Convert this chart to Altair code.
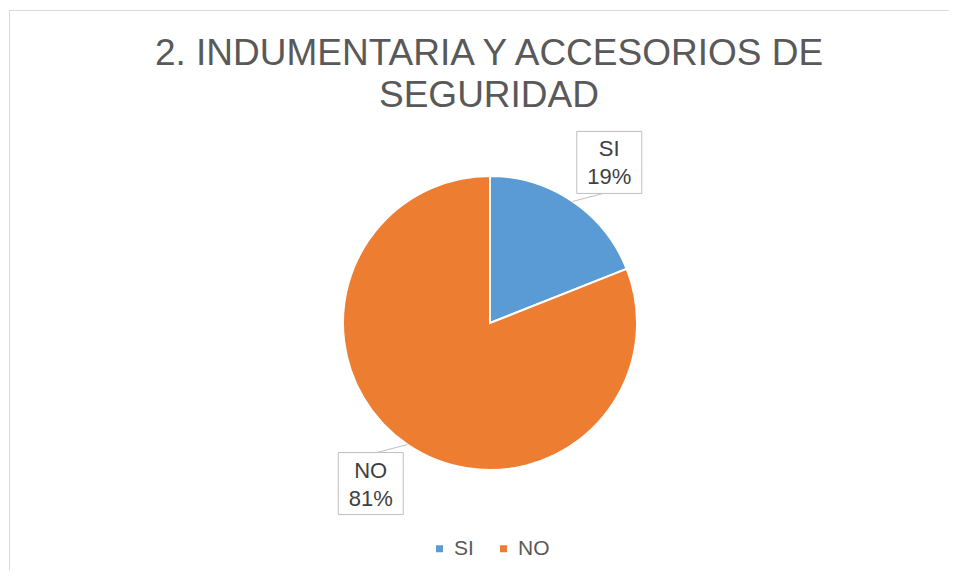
import altair as alt
import pandas as pd

categories = ["SI", "NO"]
values = [19, 81]
order = [0, 1]
title_lines = ["2. INDUMENTARIA Y ACCESORIOS DE", "SEGURIDAD"]

colors = ["#5B9BD5", "#ED7D31"]
FONT = "Liberation Sans"
CX, CY, R, LR = 482, 315, 147, 200
OFF = 0.042  # label rotation offset (radians)
W, H = 941, 562

df = pd.DataFrame({"cat": categories, "value": values, "order": order})

base = alt.Chart(df).transform_window(
    cum="sum(value)", sort=[alt.SortField("order")]
).transform_joinaggregate(total="sum(value)").transform_calculate(
    mid="2*PI*(datum.cum - datum.value/2)/datum.total",
    pct="datum.value + '%'",
).transform_calculate(
    la=f"datum.mid + {OFF}",
).transform_calculate(
    lx=f"{CX} + {LR}*sin(datum.la)",
    ly=f"{CY} - {LR}*cos(datum.la)",
    px=f"{CX} + {R}*sin(datum.mid)",
    py=f"{CY} - {R}*cos(datum.mid)",
).transform_calculate(
    bx1="datum.lx - 32.5",
    bx2="datum.lx + 32.5",
    by1="datum.ly - 31",
    by2="datum.ly + 31",
    ex="datum.lx - 10*sin(datum.la)",
    ey="datum.ly + 31*(cos(datum.la) > 0 ? 1 : -1)",
)

color = alt.Color(
    "cat:N",
    scale=alt.Scale(domain=categories, range=colors),
    sort=categories,
    legend=alt.Legend(
        title=None,
        orient="none",
        legendX=421,
        legendY=530,
        padding=0,
        direction="horizontal",
        symbolType="square",
        symbolSize=49,
        symbolStrokeWidth=0,
        labelFontSize=21,
        labelFont=FONT,
        labelColor="#595959",
        labelOffset=4,
        columnPadding=19,
    ),
)

pie = alt.Chart(df).mark_arc(
    outerRadius=R, stroke="white", strokeWidth=2
).encode(
    theta=alt.Theta("value:Q", stack=True),
    order=alt.Order("order:Q"),
    color=color,
    x=alt.value(CX),
    y=alt.value(CY),
)

leader = base.mark_rule(color="#bfbfbf", strokeWidth=1).encode(
    x=alt.X("px:Q", scale=None),
    y=alt.Y("py:Q", scale=None),
    x2="ex:Q",
    y2="ey:Q",
)

box = base.mark_rect(fill="white", stroke="#bfbfbf", strokeWidth=1).encode(
    x=alt.X("bx1:Q", scale=None),
    x2="bx2:Q",
    y=alt.Y("by1:Q", scale=None),
    y2="by2:Q",
)

txt1 = base.mark_text(
    font=FONT, fontSize=22, color="#404040", baseline="middle", align="center", dy=-13
).encode(
    x=alt.X("lx:Q", scale=None), y=alt.Y("ly:Q", scale=None), text="cat:N"
)
txt2 = base.mark_text(
    font=FONT, fontSize=22, color="#404040", baseline="middle", align="center", dy=15
).encode(
    x=alt.X("lx:Q", scale=None), y=alt.Y("ly:Q", scale=None), text="pct:N"
)

title = alt.Chart(pd.DataFrame({"t": [0]})).mark_text(
    text=title_lines,
    font=FONT,
    fontSize=37,
    color="#595959",
    align="center",
    baseline="alphabetic",
    lineHeight=42,
).encode(x=alt.value(481), y=alt.value(57))

frame_v = alt.Chart(pd.DataFrame({"t": [0]})).mark_rule(color="#d9d9d9", strokeWidth=1).encode(
    x=alt.value(1.5), y=alt.value(2), y2=alt.value(H)
)
frame_h = alt.Chart(pd.DataFrame({"t": [0]})).mark_rule(color="#d9d9d9", strokeWidth=1).encode(
    x=alt.value(1), x2=alt.value(W), y=alt.value(2.5)
)

chart = alt.layer(frame_v, frame_h, title, pie, leader, box, txt1, txt2).properties(
    width=W, height=H, autosize=alt.AutoSizeParams(type="none"), padding=0,
    background="white",
).configure_view(stroke=None)

chart.save("out.html", embed_options={"renderer": "svg", "actions": False})
